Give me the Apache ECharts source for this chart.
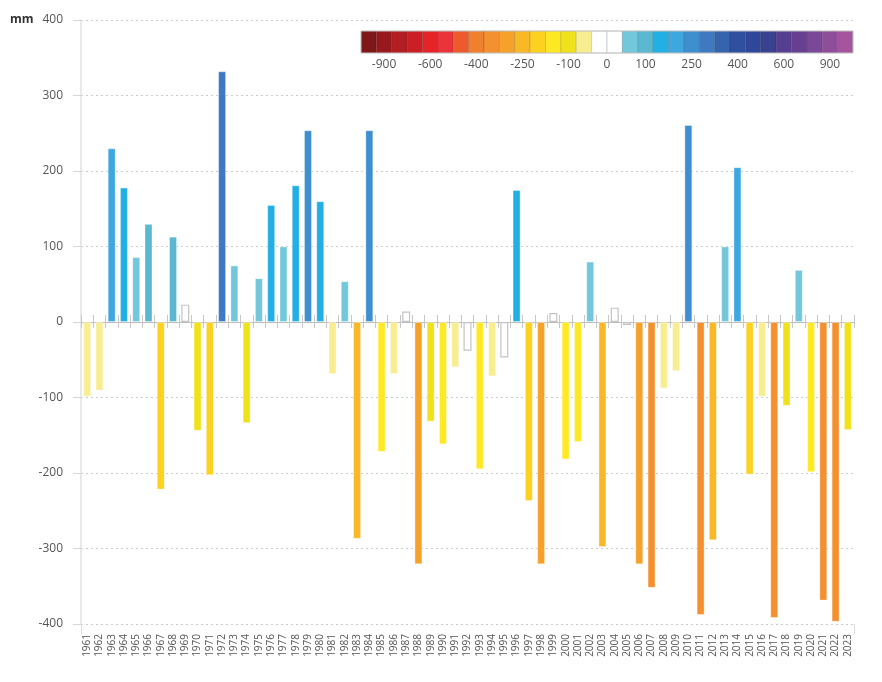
<!DOCTYPE html>
<html>
<head>
<meta charset="utf-8">
<script src="https://cdn.jsdelivr.net/npm/echarts@6/dist/echarts.min.js"></script>
<style>
  html, body { margin: 0; padding: 0; background: #ffffff; }
  #chart { width: 882px; height: 682px; }
</style>
</head>
<body>
<div id="chart"></div>
<script>
// ---- data ----
const years = [];
for (let y = 1961; y <= 2023; y++) years.push(String(y));

const anomalies = [
  -99, -91, 230, 178, 86, 130, -222, 113, 23, -144,
  -203, 332, 75, -134, 58, 155, 100, 181, 254, 160,
  -69, 54, -287, 254, -172, -69, 14, -321, -132, -162,
  -60, -38, -195, -72, -47, 175, -237, -321, 12, -182,
  -159, 80, -298, 19, -4, -321, -352, -88, -65, 261,
  -388, -289, 100, 205, -202, -99, -392, -111, 69, -199,
  -369, -397, -143
];

const yTicks = [-400, -300, -200, -100, 0, 100, 200, 300, 400];

// colour classes of the scale (interior bin edges, then 32 class colours)
const binEdges = [-1000, -900, -800, -700, -600, -500, -450, -400, -350, -300, -250, -200, -150, -100, -50,
  0, 50, 100, 150, 200, 250, 300, 350, 400, 450, 500, 600, 700, 800, 900, 1000];
const scaleColors = [
  '#7e1718', '#98191d', '#b31e22', '#cb1f26', '#e42427', '#e8343a', '#ec5a2e', '#f07f2e',
  '#f39130', '#f6a22a', '#f9b826', '#fdd120', '#ffe924', '#f0e21a', '#f8ee91', '#ffffff',
  '#ffffff', '#72c8da', '#5bb8d0', '#22b0e4', '#3ea7df', '#3e8fce', '#3e79c1', '#3563ad',
  '#2f4fa0', '#2e4799', '#3a4290', '#563f90', '#673f90', '#7a4896', '#8f4e9a', '#a5549d'
];
const scaleLabels = ['-900', '-600', '-400', '-250', '-100', '0', '100', '250', '400', '600', '900'];

// ---- helpers ----
function classIndex(v) {
  let n = 0;
  for (const e of binEdges) if (e < v) n++;
  return n;
}

const barData = anomalies.map(v => {
  const idx = classIndex(v);
  const col = scaleColors[idx];
  const white = col === '#ffffff';
  return {
    value: v,
    itemStyle: white
      ? { color: '#ffffff', borderColor: '#c4c4c4', borderWidth: 1.2 }
      : { color: col, borderColor: 'rgba(255,255,255,0.35)', borderWidth: 1 }
  };
});

// legend strip built from the scale arrays
const stripX = 361, stripY = 31, boxW = 15.375, boxH = 22;
const legendEls = [];
scaleColors.forEach((c, i) => {
  legendEls.push({
    type: 'rect',
    shape: { x: stripX + i * boxW, y: stripY, width: boxW, height: boxH },
    style: { fill: c, stroke: c === '#ffffff' ? '#cfcfcf' : 'rgba(0,0,0,0.12)', lineWidth: 1 }
  });
});
legendEls.push({
  type: 'rect',
  shape: { x: stripX, y: stripY, width: boxW * scaleColors.length, height: boxH },
  style: { fill: 'none', stroke: '#c8c8c8', lineWidth: 1 }
});
scaleLabels.forEach((t, i) => {
  let k;
  if (i < 5) k = 1.5 + 3 * i;
  else if (i === 5) k = 16;
  else k = 18.5 + 3 * (i - 6);
  legendEls.push({
    type: 'text',
    x: stripX + k * boxW,
    y: 65,
    style: {
      text: t, fill: '#555555', font: '12px "Open Sans", sans-serif',
      align: 'center', verticalAlign: 'middle'
    }
  });
});
legendEls.push({
  type: 'text', x: 10, y: 20,
  style: { text: 'mm', fill: '#333333', font: 'bold 12px "Open Sans", sans-serif', verticalAlign: 'middle' }
});

const chart = echarts.init(document.getElementById('chart'), null, { renderer: 'canvas' });

const baseCat = {
  type: 'category',
  data: years,
  boundaryGap: true
};

chart.setOption({
  animation: false,
  backgroundColor: '#ffffff',
  grid: { left: 81, right: 28, top: 20, bottom: 58, containLabel: false },
  xAxis: [
    Object.assign({}, baseCat, {
      position: 'bottom',
      axisLine: { show: false, onZero: false },
      axisTick: { show: true, length: 10, interval: function (i) { return i === 0; }, lineStyle: { color: '#dcdcdc' } },
      axisLabel: {
        rotate: 90, fontSize: 10, color: '#555555', margin: 10, interval: 0,
        fontFamily: '"Open Sans", sans-serif'
      },
      splitLine: { show: false }
    }),
    Object.assign({}, baseCat, {
      position: 'bottom',
      axisLine: { show: true, onZero: true, onZeroAxisIndex: 0, lineStyle: { color: '#bdbdbd', width: 1 } },
      axisTick: { show: true, length: 6, interval: 0, lineStyle: { color: '#c8c8c8' } },
      axisLabel: { show: false },
      splitLine: { show: false }
    }),
    Object.assign({}, baseCat, {
      position: 'top',
      axisLine: { show: true, onZero: true, onZeroAxisIndex: 0, lineStyle: { color: '#bdbdbd', width: 1 } },
      axisTick: { show: true, length: 7, interval: 0, lineStyle: { color: '#c8c8c8' } },
      axisLabel: { show: false },
      splitLine: { show: false }
    })
  ],
  yAxis: {
    type: 'value',
    min: yTicks[0],
    max: yTicks[yTicks.length - 1],
    interval: 100,
    axisLine: { show: true, lineStyle: { color: '#e2e2e2', width: 1.5 } },
    axisTick: { show: true, length: 8, lineStyle: { color: '#d6d6d6' } },
    axisLabel: { color: '#555555', fontSize: 12, margin: 18, fontFamily: '"Open Sans", sans-serif' },
    splitLine: { show: true, lineStyle: { color: '#cccccc', type: [2, 3], width: 1 } }
  },
  series: [{
    type: 'bar',
    xAxisIndex: 0,
    data: barData,
    barWidth: 8
  }],
  graphic: legendEls
});
</script>
</body>
</html>
